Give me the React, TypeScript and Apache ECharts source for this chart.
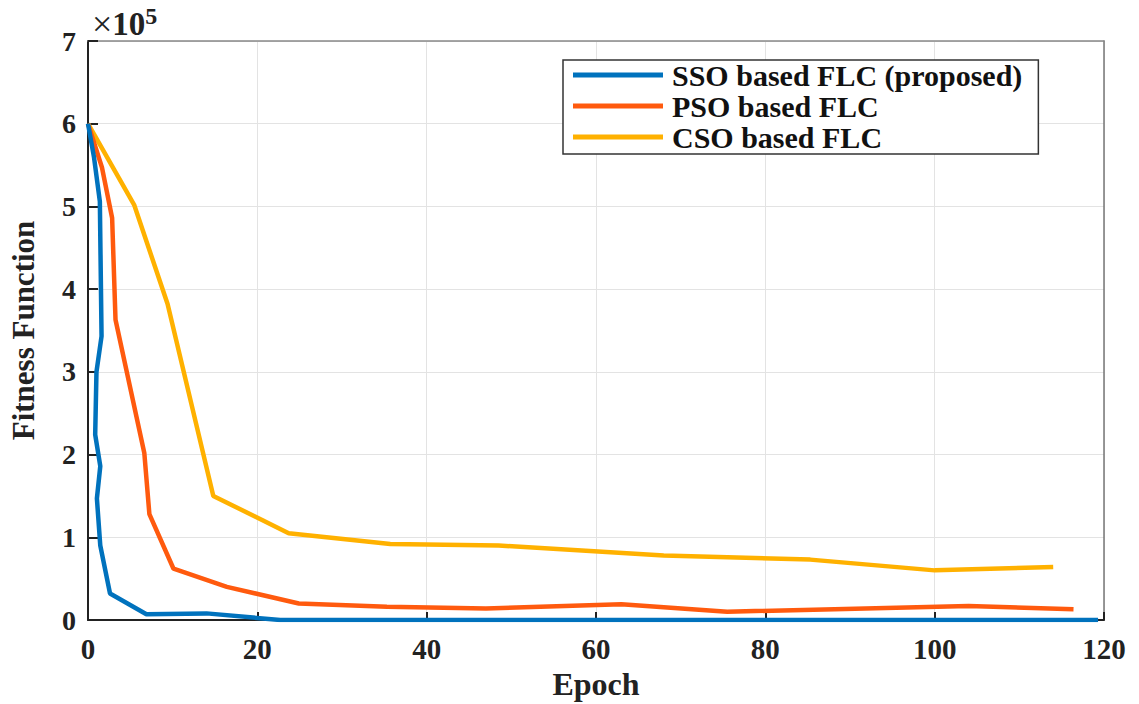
import React, { useEffect, useRef } from "react";
import * as echarts from "echarts";

// Epoch (x) and fitness (y)
const sso: [number, number][] = [
  [0, 600000], [0.7, 560000], [1.4, 506000], [1.6, 343000], [1.0, 300000],
  [0.85, 224000], [1.45, 186000], [1.05, 147000], [1.45, 90000], [2.6, 32000],
  [6.9, 7000], [14, 8000], [22.7, 0], [119.3, 0],
];
const pso: [number, number][] = [
  [0, 600000], [1.65, 547000], [2.85, 486000], [3.25, 363000], [6.65, 202000],
  [7.25, 128000], [10.1, 62000], [16.4, 40000], [24.9, 20000], [35.3, 16000],
  [47, 14000], [63, 19000], [75.5, 10000], [104, 17000], [116.4, 13000],
];
const cso: [number, number][] = [
  [0, 600000], [5.45, 502000], [9.4, 382000], [14.8, 150000], [23.7, 105000],
  [35.7, 92000], [48.5, 90000], [68, 78000], [85.3, 73000], [100, 60000],
  [114, 64000],
];
const seriesNames = ["SSO based FLC (proposed)", "PSO based FLC", "CSO based FLC"];
const colors = ["#0072BD", "#FF5A0E", "#FFB100"];
const xTicks = { min: 0, max: 120, interval: 20 };
const yTicks = { min: 0, max: 700000, interval: 100000 };

const FONT = "Liberation Serif, Times New Roman, serif";

export default function App() {
  const ref = useRef<HTMLDivElement>(null);
  useEffect(() => {
    document.body.style.margin = "0";
    if (!ref.current) return;
    const chart = echarts.init(ref.current, null, { renderer: "svg" });
    const gridLine = { show: true, lineStyle: { color: "#e3e3e3", width: 1 } };
    chart.setOption({
      animation: false,
      backgroundColor: "#ffffff",
      textStyle: { fontFamily: FONT },
      grid: { left: 88, right: 35, top: 41, bottom: 84, containLabel: false, outerBoundsMode: "none" },
      legend: {
        orient: "vertical",
        left: 563,
        top: 60,
        padding: [0, 16, 2, 10],
        itemGap: 1,
        itemWidth: 90,
        itemHeight: 5,
        icon: "rect",
        borderColor: "#333",
        borderWidth: 1.5,
        backgroundColor: "#fff",
        data: seriesNames,
        textStyle: { fontFamily: FONT, fontWeight: "bold", fontSize: 30, lineHeight: 30, color: "#111", padding: [0, 0, 0, 4] },
      },
      xAxis: [
        {
          type: "value",
          ...xTicks,
          name: "Epoch",
          nameLocation: "middle",
          nameGap: 46,
          nameTextStyle: { fontFamily: FONT, fontWeight: "bold", fontSize: 32, color: "#222" },
          axisLine: { show: true, onZero: false, lineStyle: { color: "#222", width: 2 } },
          axisTick: { show: true, inside: true, length: 8, lineStyle: { color: "#222", width: 2 } },
          axisLabel: { fontFamily: FONT, fontWeight: "bold", fontSize: 29, color: "#222", margin: 14 },
          splitLine: gridLine,
        },
        {
          type: "value",
          position: "top",
          ...xTicks,
          axisLine: { show: true, onZero: false, lineStyle: { color: "#888", width: 1.5 } },
          axisTick: { show: false },
          axisLabel: { show: false },
          splitLine: { show: false },
        },
      ],
      yAxis: [
        {
          type: "value",
          ...yTicks,
          name: "Fitness Function",
          nameLocation: "middle",
          nameGap: 49,
          nameTextStyle: { fontFamily: FONT, fontWeight: "bold", fontSize: 31, color: "#222" },
          axisLine: { show: true, onZero: false, lineStyle: { color: "#222", width: 2 } },
          axisTick: { show: true, inside: true, length: 10, lineStyle: { color: "#222", width: 2 } },
          axisLabel: {
            fontFamily: FONT, fontWeight: "bold", fontSize: 28, color: "#222", margin: 12,
            formatter: (v: number) => String(Math.round(v / 100000)),
          },
          splitLine: gridLine,
        },
        {
          type: "value",
          position: "right",
          ...yTicks,
          axisLine: { show: true, onZero: false, lineStyle: { color: "#777", width: 1.5 } },
          axisTick: { show: false },
          axisLabel: { show: false },
          splitLine: { show: false },
        },
      ],
      graphic: [
        {
          type: "text",
          left: 92,
          top: 4,
          style: {
            text: "{a|×}{b|10}{c|5}",
            rich: {
              a: { fontFamily: FONT, fontSize: 36, fontWeight: "normal", fill: "#222" },
              b: { fontFamily: FONT, fontSize: 33, fontWeight: "bold", fill: "#222" },
              c: { fontFamily: FONT, fontSize: 24, fontWeight: "bold", fill: "#222", verticalAlign: "top", padding: [0, 0, 16, 0] },
            },
          },
        },
      ],
      series: [sso, pso, cso].map((d, i) => ({
        name: seriesNames[i],
        type: "line",
        data: d,
        showSymbol: false,
        symbol: "none",
        color: colors[i],
        lineStyle: { width: 4.5, color: colors[i] },
        z: 10 - i,
      })),
    });
    return () => chart.dispose();
  }, []);
  return <div ref={ref} style={{ width: 1139, height: 704 }} />;
}
